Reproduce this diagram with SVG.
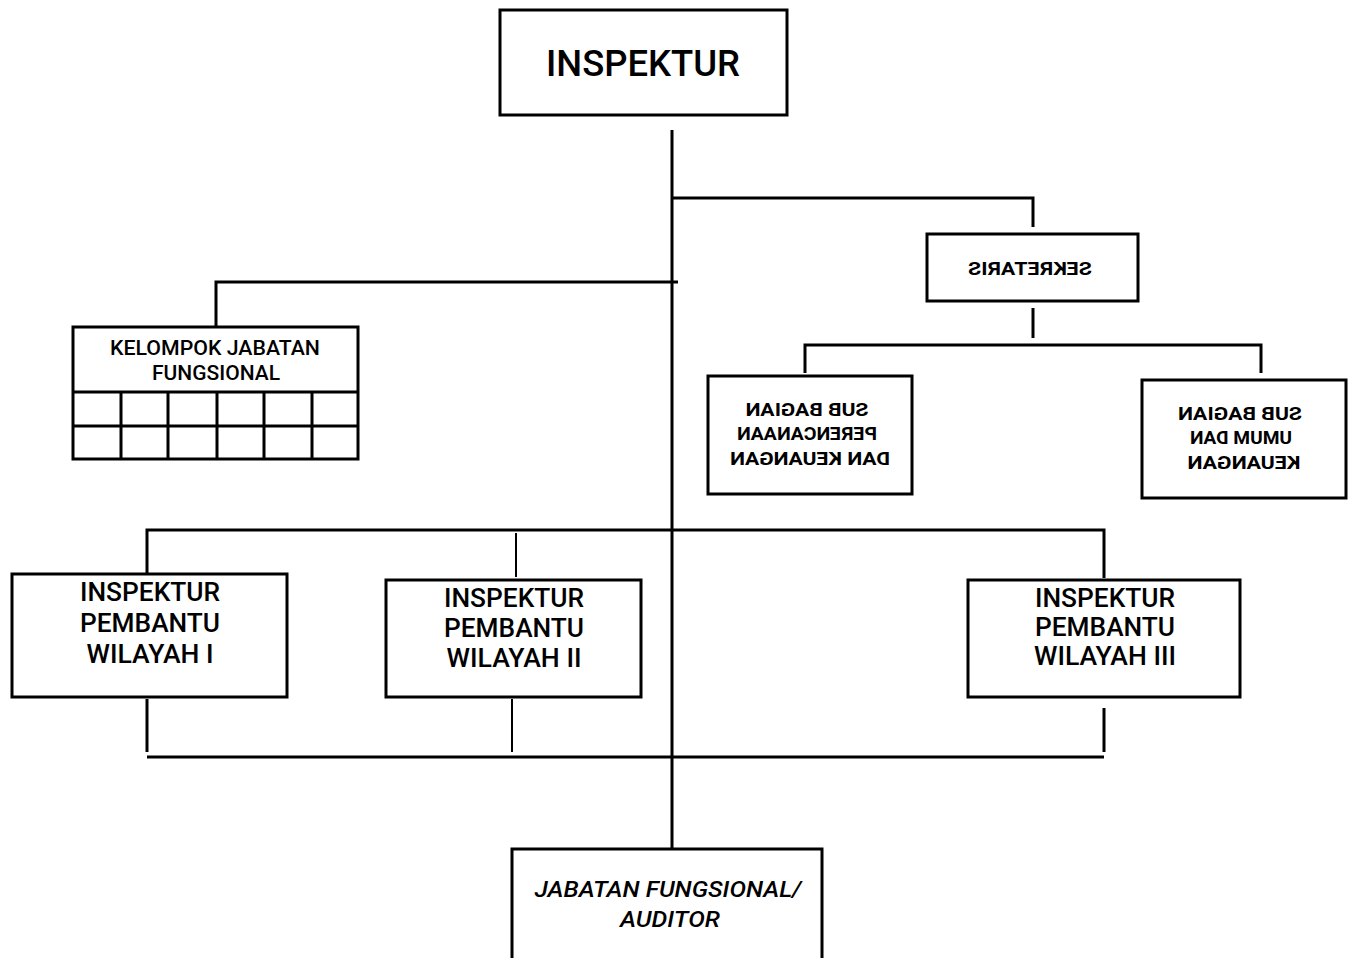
<svg xmlns="http://www.w3.org/2000/svg" width="1353" height="958" viewBox="0 0 1353 958">
<style>
.box{fill:#fff;stroke:#000;stroke-width:3}
.ln{stroke:#000;stroke-width:3;fill:none}
.t{font-family:Roboto,"Liberation Sans",sans-serif;font-weight:500;fill:#000;text-anchor:middle}
.b{font-weight:700}
</style>
<rect width="1353" height="958" fill="#fff"/>
<g id="connectors">
<path class="ln" d="M672 130V849"/>
<path class="ln" d="M672 198H1033V227"/>
<path class="ln" d="M216 326V282H678"/>
<path class="ln" d="M1033 308V338"/>
<path class="ln" d="M805 373V345H1261V373"/>
<path class="ln" d="M147 574V530H1104V578"/>
<path class="ln" d="M516 533V577" style="stroke-width:2"/>
<path class="ln" d="M147 699V752"/>
<path class="ln" d="M512 699V752" style="stroke-width:2"/>
<path class="ln" d="M1104 708V752"/>
<path class="ln" d="M147 757H1104"/>
</g>
<g id="inspektur">
<rect class="box" x="500" y="10" width="287" height="105"/>
<text class="t" x="643" y="76" font-size="37" textLength="194" lengthAdjust="spacingAndGlyphs">INSPEKTUR</text>
</g>
<g id="sekretaris">
<rect class="box" x="927" y="234" width="211" height="67"/>
<g transform="matrix(-1 0 0 1 2060 0)"><text class="t b" x="1030" y="275" font-size="19" textLength="124" lengthAdjust="spacingAndGlyphs">SEKRETARIS</text></g>
</g>
<g id="subbag-perencanaan">
<rect class="box" x="708" y="376" width="204" height="118"/>
<g transform="matrix(-1 0 0 1 1620 0)">
<text class="t b" x="813" y="416" font-size="18.5" textLength="123" lengthAdjust="spacingAndGlyphs">SUB BAGIAN</text>
<text class="t b" x="813" y="440" font-size="18.5" textLength="140" lengthAdjust="spacingAndGlyphs">PERENCANAAN</text>
<text class="t b" x="810" y="465" font-size="18.5" textLength="160" lengthAdjust="spacingAndGlyphs">DAN KEUANGAN</text>
</g>
</g>
<g id="subbag-umum">
<rect class="box" x="1142" y="380" width="204" height="118"/>
<g transform="matrix(-1 0 0 1 2480 0)">
<text class="t b" x="1240" y="420" font-size="18.5" textLength="124" lengthAdjust="spacingAndGlyphs">SUB BAGIAN</text>
<text class="t b" x="1239" y="444" font-size="18.5" textLength="102" lengthAdjust="spacingAndGlyphs">UMUM DAN</text>
<text class="t b" x="1236" y="469" font-size="18.5" textLength="113" lengthAdjust="spacingAndGlyphs">KEUANGAN</text>
</g>
</g>
<g id="kelompok">
<rect class="box" x="73" y="327" width="285" height="132"/>
<path class="ln" d="M73 392H358M73 426H358M121 392V459M168 392V459M217 392V459M264 392V459M312 392V459"/>
<text class="t" x="215" y="355" font-size="20" textLength="210" lengthAdjust="spacingAndGlyphs">KELOMPOK JABATAN</text>
<text class="t" x="216" y="380" font-size="20" textLength="128" lengthAdjust="spacingAndGlyphs">FUNGSIONAL</text>
</g>
<g id="irban1">
<rect class="box" x="12" y="574" width="275" height="123"/>
<text class="t" x="150" y="601" font-size="26" textLength="140" lengthAdjust="spacingAndGlyphs">INSPEKTUR</text>
<text class="t" x="150" y="632" font-size="26" textLength="140" lengthAdjust="spacingAndGlyphs">PEMBANTU</text>
<text class="t" x="150" y="663" font-size="26" textLength="127" lengthAdjust="spacingAndGlyphs">WILAYAH I</text>
</g>
<g id="irban2">
<rect class="box" x="386" y="580" width="255" height="117"/>
<text class="t" x="514" y="607" font-size="26" textLength="140" lengthAdjust="spacingAndGlyphs">INSPEKTUR</text>
<text class="t" x="514" y="637" font-size="26" textLength="140" lengthAdjust="spacingAndGlyphs">PEMBANTU</text>
<text class="t" x="514" y="667" font-size="26" textLength="135" lengthAdjust="spacingAndGlyphs">WILAYAH II</text>
</g>
<g id="irban3">
<rect class="box" x="968" y="580" width="272" height="117"/>
<text class="t" x="1105" y="607" font-size="26" textLength="140" lengthAdjust="spacingAndGlyphs">INSPEKTUR</text>
<text class="t" x="1105" y="636" font-size="26" textLength="140" lengthAdjust="spacingAndGlyphs">PEMBANTU</text>
<text class="t" x="1105" y="665" font-size="26" textLength="142" lengthAdjust="spacingAndGlyphs">WILAYAH III</text>
</g>
<g id="jabatan-fungsional">
<rect class="box" x="512" y="849" width="310" height="120"/>
<text class="t" x="668" y="897" font-size="22" font-style="italic" textLength="267" lengthAdjust="spacingAndGlyphs">JABATAN FUNGSIONAL/</text>
<text class="t" x="670" y="927" font-size="22" font-style="italic" textLength="100" lengthAdjust="spacingAndGlyphs">AUDITOR</text>
</g>
</svg>
